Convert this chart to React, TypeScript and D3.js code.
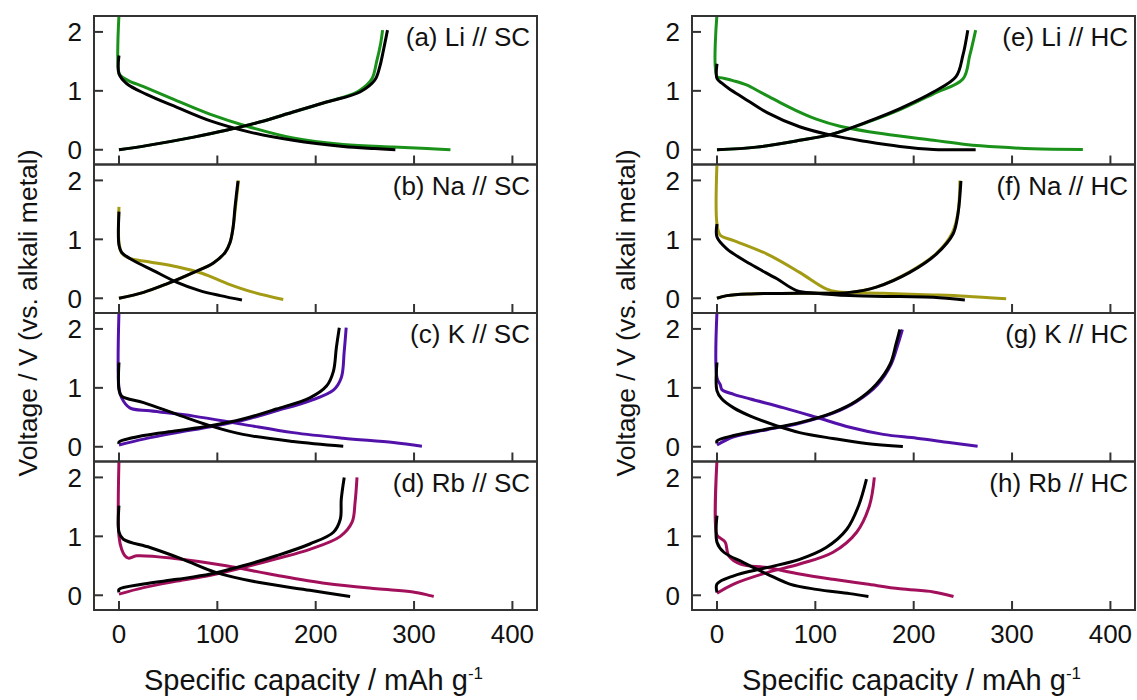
import React from "react";
import * as d3 from "d3";

type P = [number, number];

// ---- tick labels / categories ----
const xTicks = [0, 100, 200, 300, 400];
const yTicks = [0, 1, 2];
const panelLabels = [
  "(a) Li // SC", "(b) Na // SC", "(c) K // SC", "(d) Rb // SC",
  "(e) Li // HC", "(f) Na // HC", "(g) K // HC", "(h) Rb // HC",
];
const panelColors = ["#1a921a", "#a39b14", "#5212aa", "#a2105c", "#1a921a", "#a39b14", "#5212aa", "#a2105c"];

// ---- (a) Li // SC ----
const aColDis: P[] = [[0,2.3],[0,1.3],[2.7,1.24],[10,1.17],[25,1.07],[52,0.88],[93,0.6],[130,0.4],[177,0.2],[228,0.09],[279,0.045],[313,0.02],[337,0.0]];
const aBlkDis: P[] = [[0,1.6],[0,1.29],[8,1.12],[28,0.94],[59,0.72],[93,0.49],[133,0.3],[177,0.16],[228,0.057],[260,0.02],[281,0.0]];
const aColChg: P[] = [[0,0],[28,0.07],[76,0.215],[109,0.33],[143,0.47],[177,0.64],[211,0.81],[243,0.99],[257,1.2],[262,1.5],[266,1.8],[268,2.03]];
const aBlkChg: P[] = [[0,0],[28,0.07],[76,0.215],[109,0.33],[143,0.47],[177,0.64],[211,0.81],[245,0.98],[260,1.18],[265,1.4],[269,1.7],[273,2.03]];
// ---- (b) Na // SC ----
const bColDis: P[] = [[0,1.55],[0,0.95],[3,0.76],[10,0.68],[30,0.62],[60,0.53],[85,0.42],[110,0.25],[137,0.1],[167,-0.02]];
const bBlkDis: P[] = [[0,1.47],[0,0.9],[2.7,0.78],[14.6,0.64],[35,0.47],[59,0.27],[82,0.13],[103,0.045],[125,-0.03]];
const bColChg: P[] = [[0,0],[25,0.1],[48,0.24],[76,0.44],[96,0.6],[108,0.78],[113,0.95],[116,1.2],[118.5,1.55],[121.5,2.0]];
const bBlkChg: P[] = [[0,0],[25,0.1],[48,0.24],[76,0.44],[96,0.6],[108,0.78],[113,0.95],[116,1.2],[118,1.55],[121,1.99]];
// ---- (c) K // SC ----
const cColDis: P[] = [[0,2.3],[0,1.0],[2.7,0.83],[11,0.66],[31.5,0.61],[76,0.52],[126,0.38],[177,0.24],[228,0.146],[279,0.073],[308,0.01]];
const cBlkDis: P[] = [[0,1.43],[0,0.97],[2.7,0.86],[25,0.75],[59,0.55],[93,0.355],[126,0.21],[177,0.09],[228,0.01]];
const cColChg: P[] = [[0,0.03],[25,0.13],[59,0.24],[93,0.34],[126,0.45],[160,0.61],[194,0.78],[218,0.96],[226,1.17],[229,1.62],[231,2.02]];
const cBlkChg: P[] = [[0,0.05],[0,0.08],[25,0.19],[59,0.27],[93,0.355],[126,0.47],[160,0.64],[194,0.83],[211,1.03],[218,1.28],[221,1.68],[224,2.02]];
// ---- (d) Rb // SC ----
const dColDis: P[] = [[0,2.3],[0,1.0],[2.7,0.78],[6,0.67],[9.5,0.63],[18,0.67],[59,0.62],[109,0.5],[160,0.34],[211,0.2],[262,0.11],[299,0.057],[320,-0.02]];
const dBlkDis: P[] = [[0,1.52],[0,1.07],[4.4,0.95],[31.5,0.81],[65,0.61],[99,0.385],[143,0.215],[194,0.085],[235,-0.02]];
const dColChg: P[] = [[0,0.02],[25,0.13],[59,0.24],[93,0.34],[126,0.47],[160,0.62],[194,0.78],[225,1.0],[237,1.24],[240,1.57],[242,2.0]];
const dBlkChg: P[] = [[0,0.05],[0,0.1],[25,0.19],[59,0.27],[93,0.36],[126,0.5],[160,0.67],[194,0.87],[218,1.07],[225,1.29],[226,1.63],[229,2.0]];
// ---- (e) Li // HC ----
const eColDis: P[] = [[0,2.3],[0,1.24],[5,1.22],[17,1.17],[30,1.1],[45,0.97],[62,0.82],[80,0.67],[101,0.52],[125,0.4],[169,0.27],[220,0.16],[253,0.09],[287,0.045],[321,0.017],[372,0.006]];
const eBlkDis: P[] = [[0,1.46],[0,1.21],[5,1.13],[12,1.04],[27,0.88],[51,0.63],[84,0.39],[118,0.24],[152,0.14],[186,0.057],[220,0.006],[263,0]];
const eColChg: P[] = [[0,0],[40,0.045],[84,0.16],[118,0.27],[152,0.46],[186,0.68],[220,0.95],[250,1.2],[257,1.6],[263,2.03]];
const eBlkChg: P[] = [[0,0],[40,0.045],[84,0.16],[118,0.27],[152,0.47],[186,0.7],[220,0.98],[243,1.24],[250,1.6],[255,2.03]];
// ---- (f) Na // HC ----
const fColDis: P[] = [[0,2.3],[0,1.26],[3.4,1.07],[17,0.98],[51,0.75],[84,0.44],[111,0.16],[122,0.11],[169,0.085],[220,0.057],[253,0.034],[294,-0.01]];
const fBlkDis: P[] = [[0,1.26],[0,1.04],[10,0.84],[34,0.58],[61,0.33],[81,0.13],[101,0.085],[135,0.045],[186,0.028],[220,0.017],[252,-0.03]];
const fColChg: P[] = [[0,0],[10,0.045],[34,0.074],[84,0.085],[135,0.1],[162,0.19],[196,0.45],[223,0.76],[239,1.1],[245,1.45],[247,2.0]];
const fBlkChg: P[] = [[0,0],[10,0.045],[34,0.074],[84,0.085],[135,0.1],[162,0.19],[196,0.44],[223,0.75],[240,1.09],[245,1.43],[248,1.99]];
// ---- (g) K // HC ----
const gColDis: P[] = [[0,2.3],[0,1.17],[3.4,1.05],[5,0.97],[17,0.89],[34,0.81],[68,0.66],[101,0.5],[135,0.33],[169,0.21],[203,0.146],[236,0.073],[265,0.01]];
const gBlkDis: P[] = [[0,1.43],[0,0.95],[5,0.81],[17,0.66],[34,0.52],[61,0.355],[84,0.24],[118,0.14],[152,0.056],[189,0.006]];
const gColChg: P[] = [[0,0.03],[17,0.17],[51,0.29],[84,0.4],[118,0.57],[142,0.77],[163,1.05],[177,1.4],[184,1.74],[188.5,1.99]];
const gBlkChg: P[] = [[0,0.06],[0,0.1],[17,0.19],[51,0.3],[84,0.41],[118,0.58],[142,0.78],[162,1.06],[176,1.4],[182,1.74],[186,1.99]];
// ---- (h) Rb // HC ----
const hColDis: P[] = [[0,2.3],[0,1.02],[3.4,0.97],[8.4,0.9],[12,0.67],[24,0.53],[51,0.47],[84,0.36],[118,0.27],[152,0.19],[186,0.11],[220,0.057],[240.5,-0.02]];
const hBlkDis: P[] = [[0,1.35],[0,0.9],[7,0.73],[27,0.555],[51,0.36],[74,0.19],[101,0.1],[135,0.028],[154,-0.02]];
const hColChg: P[] = [[0,0.034],[17,0.19],[51,0.385],[84,0.53],[118,0.73],[142,1.07],[155,1.52],[160,2.0]];
const hBlkChg: P[] = [[0,0.05],[0,0.19],[17,0.33],[51,0.47],[84,0.61],[111,0.81],[132,1.12],[144,1.52],[152,1.97]];

const panelSeries: P[][][] = [
  [aColDis, aColChg, aBlkDis, aBlkChg],
  [bColDis, bColChg, bBlkDis, bBlkChg],
  [cColDis, cColChg, cBlkDis, cBlkChg],
  [dColDis, dColChg, dBlkDis, dBlkChg],
  [eColDis, eColChg, eBlkDis, eBlkChg],
  [fColDis, fColChg, fBlkDis, fBlkChg],
  [gColDis, gColChg, gBlkDis, gBlkChg],
  [hColDis, hColChg, hBlkDis, hBlkChg],
];

const W = 1137;
const H = 700;
const FONT = "'Liberation Sans', Arial, sans-serif";
const colLefts = [94, 692];
const panelW = 443;
const top0 = 16;
const panelH = 148.5;
const FS = 26;

function Panel({ idx }: { idx: number }) {
  const col = Math.floor(idx / 4);
  const row = idx % 4;
  const x0 = colLefts[col];
  const y0 = top0 + row * panelH;
  const x = d3.scaleLinear().domain([-25.4, 425]).range([x0, x0 + panelW]);
  const y = d3.scaleLinear().domain([-0.25, 2.27]).range([y0 + panelH, y0]);
  const line = d3
    .line<P>()
    .x((d) => x(d[0]))
    .y((d) => y(d[1]))
    .curve(d3.curveCatmullRom.alpha(0.5));
  const series = panelSeries[idx];
  const color = panelColors[idx];
  const clipId = `clip-${idx}`;
  return (
    <g>
      <clipPath id={clipId}>
        <rect x={x0} y={y0} width={panelW} height={panelH} />
      </clipPath>
      <g clipPath={`url(#${clipId})`}>
        {series.map((s, i) => (
          <path
            key={i}
            d={line(s) || ""}
            fill="none"
            stroke={i < 2 ? color : "#000"}
            strokeWidth={3}
            strokeLinejoin="round"
            strokeLinecap="butt"
          />
        ))}
      </g>
      <rect x={x0} y={y0} width={panelW} height={panelH} fill="none" stroke="#333" strokeWidth={2} />
      {xTicks.map((t) => (
        <line key={"xt" + t} x1={x(t)} x2={x(t)} y1={y0 + panelH} y2={y0 + panelH - 9} stroke="#333" strokeWidth={2} />
      ))}
      {yTicks.map((t) => (
        <g key={"yt" + t}>
          <line x1={x0} x2={x0 + 9} y1={y(t)} y2={y(t)} stroke="#333" strokeWidth={2} />
          <text x={x0 - 12} y={y(t)} dy="0.36em" textAnchor="end" fontSize={FS} fontFamily={FONT} fill="#111">
            {t}
          </text>
        </g>
      ))}
      <text x={x0 + panelW - 7} y={y0 + 30} textAnchor="end" fontSize={FS} fontFamily={FONT} fill="#111">
        {panelLabels[idx]}
      </text>
      {row === 3 &&
        xTicks.map((t) => (
          <text key={"xl" + t} x={x(t)} y={y0 + panelH + 33} textAnchor="middle" fontSize={FS} fontFamily={FONT} fill="#111">
            {t}
          </text>
        ))}
    </g>
  );
}

export default function App() {
  const bottom = top0 + 4 * panelH;
  const midY = top0 + 2 * panelH;
  return (
    <svg width={W} height={H} style={{ position: "absolute", left: 0, top: 0, background: "#fff" }}>
      {[0, 1, 2, 3, 4, 5, 6, 7].map((i) => (
        <Panel key={i} idx={i} />
      ))}
      {colLefts.map((cx, i) => (
        <g key={"titles" + i}>
          <text x={cx + panelW / 2 - 2} y={bottom + 80} textAnchor="middle" fontSize={29} fontFamily={FONT} fill="#111">
            Specific capacity / mAh g
            <tspan dy={-11} fontSize={17}>-1</tspan>
          </text>
          <text
            transform={`translate(${cx - 57},${midY}) rotate(-90)`}
            textAnchor="middle"
            fontSize={26.5}
            fontFamily={FONT}
            fill="#111"
          >
            Voltage / V (vs. alkali metal)
          </text>
        </g>
      ))}
    </svg>
  );
}
